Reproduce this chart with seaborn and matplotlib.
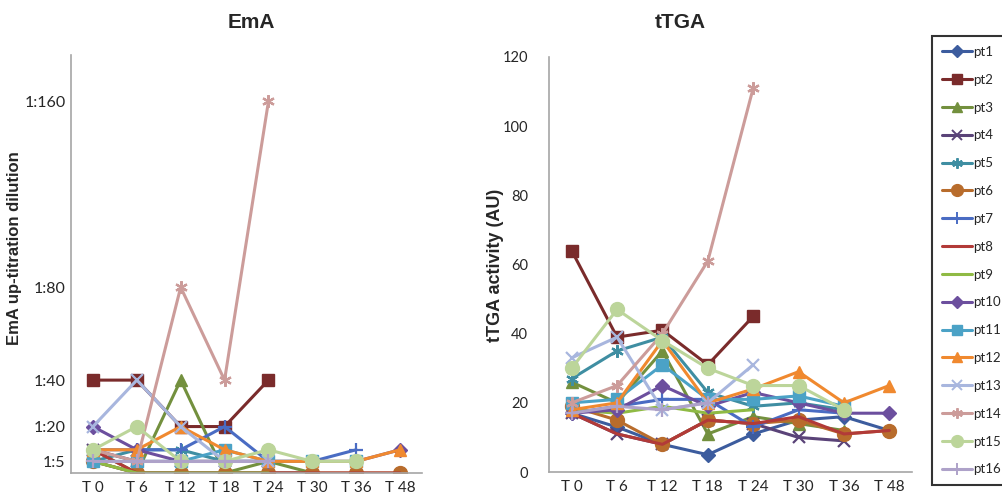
import numpy as np
import pandas as pd
import matplotlib
matplotlib.use("Agg")
import matplotlib.pyplot as plt
from matplotlib.lines import Line2D
import seaborn as sns

N = None
time_labels = ["T 0", "T 6", "T 12", "T 18", "T 24", "T 30", "T 36", "T 48"]
patients = ["pt%d" % i for i in range(1, 17)]

# EmA up-titration dilution (reciprocal titre; 0 = negative)
ema_pt1 = [5, 0, 0, 0, 0, 0, N, N]
ema_pt2 = [40, 40, 20, 20, 40, N, N, N]
ema_pt3 = [10, 0, 40, 0, 5, 0, N, N]
ema_pt4 = [10, 5, 5, 5, 5, N, N, N]
ema_pt5 = [5, 10, 10, 5, 5, N, N, N]
ema_pt6 = [5, 0, 0, 0, 0, 0, 0, 0]
ema_pt7 = [10, 10, 10, 20, 5, 5, 10, N]
ema_pt8 = [10, 0, 0, 0, 0, 0, 0, 0]
ema_pt9 = [5, 0, 0, 0, 0, N, N, N]
ema_pt10 = [20, 10, 5, 5, 5, 5, 5, 10]
ema_pt11 = [5, 5, 5, 10, 5, 5, 5, N]
ema_pt12 = [10, 10, 20, 10, 5, 5, 5, 10]
ema_pt13 = [20, 40, 20, 5, 5, N, N, N]
ema_pt14 = [10, 5, 80, 40, 160, N, N, N]
ema_pt15 = [10, 20, 5, 5, 10, 5, 5, N]
ema_pt16 = [5, 5, 5, 5, 5, N, N, N]

# tTGA activity (AU)
ttga_pt1 = [17, 13, 8, 5, 11, 15, 16, 12]
ttga_pt2 = [64, 39, 41, 31, 45, N, N, N]
ttga_pt3 = [26, 20, 35, 11, 16, 14, 12, N]
ttga_pt4 = [17, 11, 8, 15, 14, 10, 9, N]
ttga_pt5 = [27, 35, 39, 23, 19, 20, 18, N]
ttga_pt6 = [19, 15, 8, 15, 14, 15, 11, 12]
ttga_pt7 = [17, 19, 21, 21, 13, 18, 17, N]
ttga_pt8 = [17, 11, 8, 15, 14, 16, 11, 12]
ttga_pt9 = [18, 17, 19, 17, 18, N, N, N]
ttga_pt10 = [17, 18, 25, 19, 23, 20, 17, 17]
ttga_pt11 = [20, 21, 31, 21, 21, 22, 19, N]
ttga_pt12 = [18, 20, 38, 20, 24, 29, 20, 25]
ttga_pt13 = [33, 39, 18, 20, 31, N, N, N]
ttga_pt14 = [20, 25, 40, 61, 111, N, N, N]
ttga_pt15 = [30, 47, 38, 30, 25, 25, 18, N]
ttga_pt16 = [17, 19, 18, 20, N, N, N, N]

ema_ticks = [5, 20, 40, 80, 160]
ema_ticklabels = ["1:5", "1:20", "1:40", "1:80", "1:160"]
ttga_ticks = [0, 20, 40, 60, 80, 100, 120]

ema = {p: globals()["ema_" + p] for p in patients}
ttga = {p: globals()["ttga_" + p] for p in patients}

colors = ["#3C5C9E", "#7A2B2B", "#73903E", "#5A4378", "#3F8EA2", "#B86C2C",
          "#4A6CC3", "#B23A38", "#8FBA44", "#6C4F9E", "#4BA2C6", "#F0892F",
          "#A8B6DE", "#CC9C9A", "#BCD59A", "#AEA2C9"]
asterisk = (6, 2, 0)
markers = ["D", "s", "^", "x", asterisk, "o", "+", None, None, "D", "s", "^",
           "x", asterisk, "o", "+"]
msizes = [7, 9, 9, 9, 9, 10, 10, 0, 0, 7, 9, 9, 9, 9, 10, 10]

sns.set_style("white")
plt.rcParams["font.family"] = ["Liberation Sans", "DejaVu Sans"]
tick_font = ["Lato", "DejaVu Sans"]

fig = plt.figure(figsize=(10.02, 4.98), dpi=100)
axL = fig.add_axes([71 / 1002, 25 / 498, 351 / 1002, 418 / 498])
axR = fig.add_axes([549 / 1002, 26 / 498, 363 / 1002, 415 / 498])

xs = np.arange(len(time_labels))


def draw(ax, data):
    for i, p in enumerate(patients):
        y = np.array([np.nan if v is None else v for v in data[p]], dtype=float)
        m = markers[i]
        kw = dict(color=colors[i], linewidth=2.2, ax=ax)
        if m is not None:
            filled = m not in ("x", "+", asterisk)
            kw.update(marker=m, markersize=msizes[i],
                      markeredgecolor=colors[i],
                      markerfacecolor=colors[i] if filled else "none",
                      markeredgewidth=1.0 if filled else 1.6)
        sns.lineplot(x=xs, y=y, **kw)


draw(axL, ema)
draw(axR, ttga)

for ax in (axL, axR):
    ax.set_xlim(-0.5, len(time_labels) - 0.5)
    ax.set_xticks(xs)
    for s in ("top", "right"):
        ax.spines[s].set_visible(False)
    for s in ("left", "bottom"):
        ax.spines[s].set_color("#a6a6a6")
        ax.spines[s].set_linewidth(1.2)
    ax.tick_params(axis="both", length=0)
    ax.tick_params(axis="x", pad=6)
    ax.set_xlabel("")
    ax.set_ylabel("")
    ax.grid(False)
    if ax.get_legend():
        ax.get_legend().remove()

axL.set_xticklabels(time_labels, fontsize=11, family=tick_font)
axR.set_xticklabels(time_labels, fontsize=11, family=tick_font)

axL.set_ylim(0, 180)
axL.set_yticks(ema_ticks)
axL.set_yticklabels(ema_ticklabels, fontsize=11.5, family=tick_font)
axL.tick_params(axis="y", pad=4)

axR.set_ylim(0, 120)
axR.set_yticks(ttga_ticks)
axR.set_yticklabels([str(t) for t in ttga_ticks], fontsize=10.5, family=tick_font)
axR.tick_params(axis="y", pad=15)

fig.text(15 / 1002, 1 - 248 / 498, "EmA up-titration dilution", rotation=90,
         ha="center", va="center", fontsize=12, fontweight="bold")
fig.text(495 / 1002, 1 - 265 / 498, "tTGA activity (AU)", rotation=90,
         ha="center", va="center", fontsize=13, fontweight="bold")

fig.text(251 / 1002, 1 - 22 / 498, "EmA", ha="center", va="center", fontsize=15, fontweight="bold")
fig.text(680 / 1002, 1 - 22 / 498, "tTGA", ha="center", va="center", fontsize=15, fontweight="bold")

handles = []
for i, p in enumerate(patients):
    m = markers[i]
    filled = m is not None and m not in ("x", "+", asterisk)
    handles.append(Line2D([], [], color=colors[i], linewidth=2.2,
                          marker=m if m is not None else "",
                          markersize=msizes[i] * 0.85,
                          markeredgecolor=colors[i],
                          markerfacecolor=colors[i] if filled else "none",
                          markeredgewidth=1.0 if filled else 1.4))
leg = fig.legend(handles, patients, loc="upper left",
                 bbox_to_anchor=(932 / 1002, 1 - 36 / 498),
                 frameon=True, fancybox=False, labelspacing=1.2,
                 handlelength=2.3, handletextpad=0.1, borderpad=0.75,
                 borderaxespad=0, prop={"family": tick_font, "size": 9.5})
leg.get_frame().set_edgecolor("black")
leg.get_frame().set_linewidth(1.5)

fig.savefig("out.png", dpi=100)
